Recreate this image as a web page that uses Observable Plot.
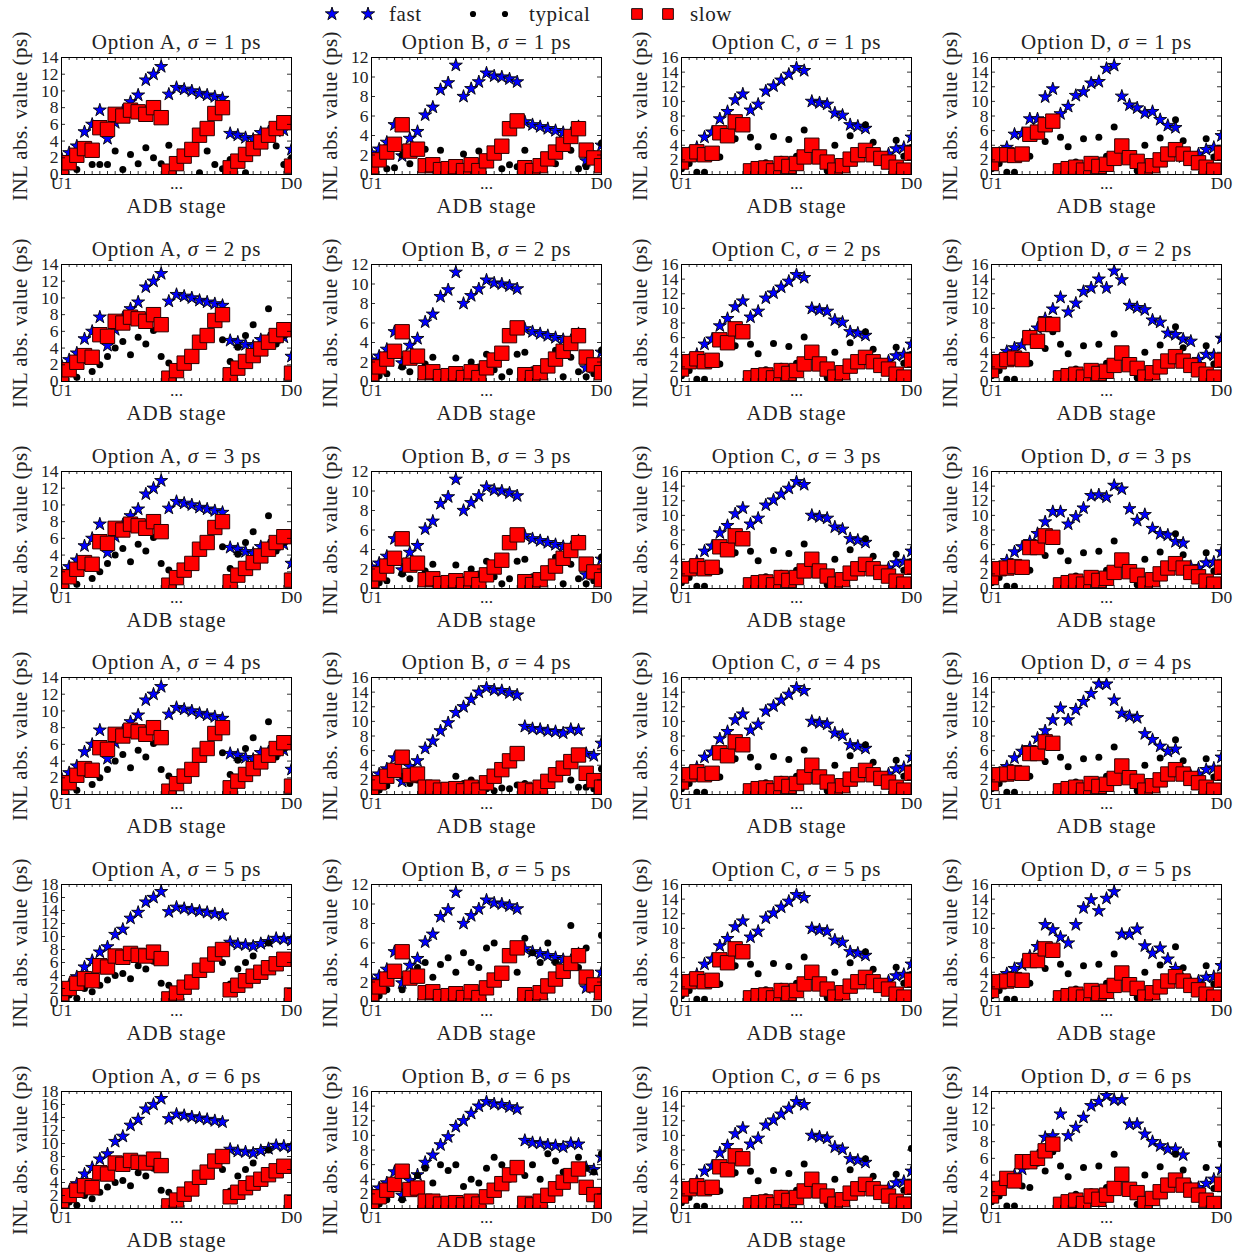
<!DOCTYPE html>
<html><head><meta charset="utf-8">
<script src="https://cdn.jsdelivr.net/npm/d3@7"></script>
<script src="https://cdn.jsdelivr.net/npm/@observablehq/plot@0.6"></script>
<style>
body{margin:0;background:#fff;}
#root{position:relative;width:1247px;height:1253px;font-family:"Liberation Serif","Times New Roman",serif;color:#111;overflow:hidden;}
.panel{position:absolute;}
#legend{position:absolute;left:0;top:0;}
</style></head><body><div id="root"></div>
<script>
// ---------------- data ----------------
const stages = [0,1,2,3,4,5,6,7,8,9,10,11,12,13,14,15,16,17,18,19,20,21,22,23,24,25,26,27,28,29,30];
const xTickStages = [0, 15, 30];
const xTickLabels = ["U1", "...", "D0"];
const options = ["A", "B", "C", "D"];
const sigmas = [1, 2, 3, 4, 5, 6];

// Option A
const fastA14 = [2.0,2.6,3.4,5.1,6.0,7.7,4.3,6.2,7.6,8.7,9.5,11.3,12.0,12.9,9.6,10.4,10.2,10.0,9.7,9.5,9.3,9.1,4.9,4.7,4.4,4.2,5.0,5.1,5.2,5.3,3.0];
const slowA14 = [0.6,1.4,2.3,3.1,2.9,5.6,5.4,7.2,7.0,7.7,7.5,7.2,8.0,6.8,0.4,1.3,2.2,3.0,4.7,5.5,7.3,8.0,0.8,1.6,2.4,3.1,3.9,4.7,5.5,6.2,1.0];
const typA1 = [0.6,1.4,0.6,3.0,1.2,1.2,1.2,2.8,0.6,2.4,1.3,3.2,2.0,1.3,3.5,1.3,2.2,3.0,0.2,2.8,1.2,0.7,1.8,1.6,0.2,3.1,3.9,4.7,3.4,1.2,2.0];
const typA24 = [1.0,1.8,0.5,2.5,1.2,2.0,3.0,4.0,4.8,3.2,5.3,4.5,6.1,3.0,2.2,1.3,2.2,3.0,4.7,5.5,6.9,5.0,2.4,4.1,5.5,6.8,4.0,8.7,4.5,5.5,6.0];
const fastA56 = [2.0,2.6,3.8,5.3,6.3,7.6,8.4,10.3,11.1,12.8,13.7,15.3,16.0,16.9,13.8,14.5,14.3,14.1,13.9,13.7,13.5,13.3,9.1,8.8,8.7,8.5,8.9,9.2,9.7,9.6,9.4];
const slowA56 = [1.2,2.0,2.8,3.5,3.2,5.5,5.3,7.0,6.8,7.4,7.1,7.0,7.6,6.6,0.4,1.3,2.2,3.0,4.8,5.6,7.3,8.0,1.8,2.5,3.2,3.9,4.5,5.2,5.8,6.5,1.0];
const typA56 = [0.6,1.0,0.5,2.0,1.5,2.5,3.3,4.0,4.3,3.5,5.5,5.0,6.2,2.8,2.5,1.3,2.5,3.2,4.5,5.8,7.5,6.0,2.7,5.0,6.0,7.0,5.0,9.0,5.5,6.5,6.5];

// Option B
const fastB1235 = [2.2,2.6,3.3,5.1,1.9,3.7,4.4,6.1,6.9,8.7,9.4,11.2,8.0,8.8,9.5,10.4,10.1,10.0,9.8,9.5,5.4,5.1,4.9,4.7,4.5,4.3,4.2,4.9,1.4,1.8,3.0];
const slowB1235 = [0.8,1.5,2.3,3.1,5.1,2.4,2.6,0.9,1.0,0.5,0.6,0.8,0.4,1.0,0.4,1.4,2.2,2.9,4.7,5.5,0.7,0.4,0.9,1.6,2.3,3.1,3.9,4.7,2.5,1.7,0.9];
const fastB46 = [2.3,2.8,3.5,5.0,1.8,3.8,4.6,6.3,7.3,8.7,9.8,11.2,12.0,13.0,14.0,14.6,14.3,14.2,13.9,13.6,9.3,9.0,8.9,8.7,8.6,8.4,8.9,8.8,5.6,5.3,7.0];
const slowB46 = [0.9,1.6,2.5,3.3,5.1,2.6,2.8,1.0,1.0,0.6,0.7,0.8,0.5,1.0,0.6,1.6,2.5,3.4,4.6,5.6,0.7,0.5,1.0,1.8,2.7,3.6,4.5,5.4,2.9,1.9,1.0];
const typB1 = [1.3,1.5,0.6,0.7,2.0,1.1,2.8,2.6,0.9,2.5,0.7,0.8,2.1,1.0,2.4,1.4,2.2,0.6,1.0,0.8,2.5,0.5,1.0,1.6,1.1,3.0,2.5,0.6,0.8,1.7,3.2];
const typB23 = [1.2,0.6,0.8,3.0,1.5,1.0,2.9,1.8,2.5,0.5,1.0,2.4,0.9,2.0,1.5,2.8,1.2,0.5,1.0,2.8,3.0,1.2,1.0,2.0,3.2,0.5,2.5,1.0,0.5,0.8,3.2];
const typB4 = [1.5,0.6,1.2,3.0,2.5,1.5,2.0,1.0,1.3,0.7,1.0,2.5,1.5,2.0,1.0,0.8,0.5,0.9,0.8,1.3,1.5,0.8,1.2,1.5,2.5,3.0,2.0,1.0,1.0,0.8,3.5];
const typB5 = [1.5,0.6,1.2,3.0,1.2,2.8,3.5,4.0,2.5,3.8,4.5,3.0,5.0,4.0,3.5,5.5,6.0,3.0,4.5,3.0,6.5,5.0,4.0,6.0,4.0,3.0,7.8,3.5,5.5,2.0,6.8];
const typB6 = [1.5,0.6,1.2,3.0,1.2,2.8,4.5,5.5,3.5,6.0,5.2,6.0,3.0,4.0,3.5,5.5,7.0,6.0,4.0,5.5,4.5,6.0,4.0,7.5,6.5,5.0,4.5,7.0,5.5,5.0,7.5];

// Option C
const fastC = [2.3,2.9,3.7,5.1,5.8,7.6,8.6,10.2,11.0,8.8,9.6,11.4,12.1,12.9,13.7,14.6,14.2,10.0,9.8,9.6,8.4,8.1,6.8,6.6,6.3,2.5,2.3,2.8,3.5,3.7,5.1];
const slowC = [1.7,2.7,3.1,2.7,2.9,5.7,5.3,7.2,6.8,0.5,0.8,0.9,0.5,1.5,1.1,1.5,2.4,4.0,2.4,1.7,0.6,1.2,2.1,2.7,3.3,2.7,2.2,1.7,1.0,0.6,2.9];
const typC = [0.8,1.5,0.3,0.3,2.8,2.4,5.2,4.9,6.7,5.1,3.8,1.6,5.2,2.1,4.8,2.5,6.1,3.9,2.3,0.5,4.0,1.2,5.3,2.6,6.8,4.4,2.2,1.7,4.7,2.5,3.7];
const typC6 = [0.8,1.5,0.3,0.3,2.8,2.4,5.2,4.9,6.7,5.1,3.8,1.6,5.2,2.1,4.8,2.5,6.1,3.9,2.3,0.5,4.0,1.2,5.3,2.6,6.8,4.4,2.2,1.7,4.7,2.5,8.2];

// Option D
const fastD1 = [2.3,2.9,3.7,5.5,5.6,7.6,7.6,10.6,11.7,8.3,9.3,10.8,11.3,12.5,12.7,14.5,14.9,10.7,9.5,9.1,8.4,8.6,7.5,6.7,6.4,2.4,2.2,2.8,3.4,3.7,5.3];
const fastD2 = [2.3,2.9,4.1,4.6,5.0,6.3,7.3,8.6,9.9,11.5,9.5,10.7,12.3,12.8,14.0,12.8,15.1,13.9,10.4,10.1,9.8,8.4,8.1,6.6,6.4,5.8,5.5,3.0,3.7,3.6,5.9];
const fastD3 = [2.3,2.9,3.8,5.0,5.7,6.4,7.5,9.1,10.5,10.5,8.8,9.8,11.0,12.7,12.8,12.5,14.1,13.6,10.9,9.3,10.1,8.2,7.5,7.3,6.4,6.2,3.0,2.8,3.5,3.6,5.0];
const fastD4 = [2.3,2.9,3.8,5.0,5.9,6.4,7.7,8.7,10.2,11.8,10.2,11.6,12.7,13.8,15.1,15.1,12.9,11.1,10.7,10.5,8.3,7.5,6.6,5.9,6.2,3.0,2.6,2.8,3.4,3.6,5.1];
const fastD5 = [2.3,2.9,3.8,4.5,5.0,6.2,7.5,10.5,9.8,8.8,8.0,10.5,12.8,13.9,12.4,14.1,15.0,9.2,9.2,9.9,7.6,6.6,7.3,5.8,4.5,3.0,2.6,2.8,3.3,3.4,4.9];
const fastD6 = [2.0,2.6,3.3,4.0,4.7,5.5,6.3,8.5,8.7,11.3,8.7,9.7,10.9,12.3,12.8,13.5,13.0,13.0,10.1,10.1,8.9,8.0,7.5,7.1,7.1,6.4,2.5,2.5,3.0,3.5,4.7];
const slowD1 = [1.5,2.7,2.7,2.6,2.8,5.5,5.8,6.8,7.3,0.5,0.8,1.0,0.6,1.5,1.1,1.4,2.2,3.9,2.3,1.8,0.6,1.2,2.0,2.8,3.4,2.8,2.2,1.6,1.0,0.6,2.9];
const slowD2 = [1.5,2.7,3.0,3.2,3.0,6.0,5.5,7.8,7.8,0.5,0.8,1.0,0.6,1.5,1.1,1.4,2.2,3.9,2.3,1.8,0.6,1.2,2.0,2.8,3.4,2.8,2.2,1.6,1.0,0.6,2.9];
const slowD345 = [1.5,2.7,2.8,3.0,2.9,5.6,5.6,7.2,7.0,0.5,0.8,1.0,0.6,1.5,1.1,1.4,2.2,3.9,2.3,1.8,0.6,1.2,2.0,2.8,3.4,2.8,2.2,1.6,1.0,0.6,2.9];
const slowD6 = [1.5,2.4,3.6,3.3,5.6,5.6,6.0,6.9,7.7,0.5,0.8,1.0,0.6,1.5,1.1,1.6,2.4,4.1,2.3,1.9,0.6,1.2,2.0,2.8,3.4,2.8,2.2,1.6,1.0,0.6,2.9];
const typD1 = [0.8,1.5,0.3,0.3,2.7,2.5,5.4,4.5,6.8,5.1,3.8,1.7,4.9,2.0,5.1,2.5,6.5,3.9,2.3,0.5,4.0,1.2,5.0,2.7,7.5,4.6,2.2,1.6,4.9,2.4,3.2];
const typD6 = [0.8,1.5,0.3,0.3,2.7,2.5,5.4,4.5,6.8,5.1,3.8,1.7,4.9,2.0,5.1,2.5,6.5,3.9,2.3,0.5,4.0,1.2,5.0,2.7,6.5,4.6,2.2,1.6,4.9,2.4,7.7];

// per-panel y-axis maxima (ps), rows = sigma, columns = option
const yMax = [
  [14, 12, 16, 16],
  [14, 12, 16, 16],
  [14, 12, 16, 16],
  [14, 16, 16, 16],
  [18, 12, 16, 16],
  [18, 16, 16, 14]
];

const series = {
  A: [[fastA14, typA1, slowA14],[fastA14, typA24, slowA14],[fastA14, typA24, slowA14],[fastA14, typA24, slowA14],[fastA56, typA56, slowA56],[fastA56, typA56, slowA56]],
  B: [[fastB1235, typB1, slowB1235],[fastB1235, typB23, slowB1235],[fastB1235, typB23, slowB1235],[fastB46, typB4, slowB46],[fastB1235, typB5, slowB1235],[fastB46, typB6, slowB46]],
  C: [[fastC, typC, slowC],[fastC, typC, slowC],[fastC, typC, slowC],[fastC, typC, slowC],[fastC, typC, slowC],[fastC, typC6, slowC]],
  D: [[fastD1, typD1, slowD1],[fastD2, typD1, slowD2],[fastD3, typD1, slowD345],[fastD4, typD1, slowD345],[fastD5, typD1, slowD345],[fastD6, typD6, slowD6]]
};

// ---------------- drawing ----------------
const FONT = '"Liberation Serif","Times New Roman",serif';
const BLUE = "#0000ff", RED = "#ff0000";
const root = document.getElementById("root");

function rowsOf(arr) { return arr.map((v, i) => ({stage: stages[i], value: v})); }

function panel(opt, r, c) {
  const [fast, typ, slow] = series[opt][r];
  const ymax = yMax[r][c];
  const yTicks = d3.range(0, ymax + 0.001, 2);
  const title = `Option ${opt}, σ = ${sigmas[r]} ps`;
  const frameH = 117, frameW = 230;
  const svg = Plot.plot({
    width: 310, height: 207,
    marginLeft: 61, marginRight: 19, marginTop: 30, marginBottom: 60,
    style: {fontFamily: FONT, fontSize: "17.5px", color: "#111", background: "transparent", overflow: "visible"},
    x: {domain: [0, 30]},
    y: {domain: [0, ymax]},
    marks: [
      Plot.dot(rowsOf(fast), {x: "stage", y: "value", symbol: "star", r: 4.1, fill: BLUE, stroke: "#000", strokeWidth: 0.9, clip: true}),
      Plot.dot(rowsOf(typ), {x: "stage", y: "value", r: 3.5, fill: "#000", stroke: "none", clip: true}),
      Plot.dot(rowsOf(slow), {x: "stage", y: "value", symbol: "square", r: 8.1, fill: RED, stroke: "#2a0000", strokeWidth: 1, clip: true}),
      Plot.tickX(stages, {x: d => d, insetTop: frameH - 3, stroke: "#000", strokeWidth: 0.8}),
      Plot.tickX(stages, {x: d => d, insetBottom: frameH - 3, stroke: "#000", strokeWidth: 0.8}),
      Plot.tickY(yTicks, {y: d => d, insetRight: frameW - 4, stroke: "#000", strokeWidth: 0.8}),
      Plot.tickY(yTicks, {y: d => d, insetLeft: frameW - 4, stroke: "#000", strokeWidth: 0.8}),
      Plot.frame({stroke: "#000", strokeWidth: 1}),
      Plot.axisX({ticks: xTickStages, tickFormat: d => xTickLabels[xTickStages.indexOf(d)], tickSize: 0, tickPadding: 2, label: null, fill: "#222"}),
      Plot.axisY({ticks: yTicks, tickSize: 0, tickPadding: 3, label: null, fill: "#222"}),
      Plot.text([title], {text: d => d, frameAnchor: "top", dy: -15, lineAnchor: "middle", textAnchor: "middle", fontSize: 21, fill: "#222"}),
      Plot.text(["ADB stage"], {text: d => d, frameAnchor: "bottom", dy: 32, lineAnchor: "middle", textAnchor: "middle", fontSize: 21, fill: "#222"}),
      Plot.text(["INL abs. value (ps)"], {text: d => d, frameAnchor: "left", dx: -41, rotate: -90, lineAnchor: "middle", textAnchor: "middle", fontSize: 21, fill: "#222"})
    ]
  });
  svg.classList.add("panel");
  svg.style.left = (c * 310) + "px";
  svg.style.top = (27 + r * 206.8) + "px";
  d3.select(svg).selectAll('g[aria-label="text"] text').each(function() {
    const t = this.textContent;
    const sel = d3.select(this).style("letter-spacing", t.startsWith("INL") ? "0.45px" : "0.8px");
    if (t.startsWith("Option")) {
      const [pre, post] = t.split("σ");
      sel.text(null);
      sel.append("tspan").text(pre);
      sel.append("tspan").style("font-style", "italic").text("σ");
      sel.append("tspan").text(post);
    }
  });
  root.appendChild(svg);
}

sigmas.forEach((s, r) => options.forEach((o, c) => panel(o, r, c)));

// ---------------- legend ----------------
const legendItems = [
  {label: "fast", symbol: d3.symbolStar, size: 55, fill: BLUE, xs: [332, 368], tx: 389},
  {label: "typical", symbol: d3.symbolCircle, size: 30, fill: "#000", xs: [473, 505], tx: 529},
  {label: "slow", symbol: d3.symbolSquare, size: 115, fill: RED, xs: [637, 668], tx: 690}
];
const leg = d3.select(root).append("svg").attr("id", "legend").attr("width", 1247).attr("height", 30);
for (const it of legendItems) {
  for (const x of it.xs) {
    leg.append("path").attr("d", d3.symbol(it.symbol, it.size)()).attr("transform", `translate(${x},14)`)
      .attr("fill", it.fill).attr("stroke", it.fill === "#000" ? "none" : "#000").attr("stroke-width", 0.9);
  }
  leg.append("text").attr("x", it.tx).attr("y", 21).text(it.label)
    .style("font-family", FONT).style("font-size", "21px").style("letter-spacing", "0.6px").attr("fill", "#222");
}
</script></body></html>
